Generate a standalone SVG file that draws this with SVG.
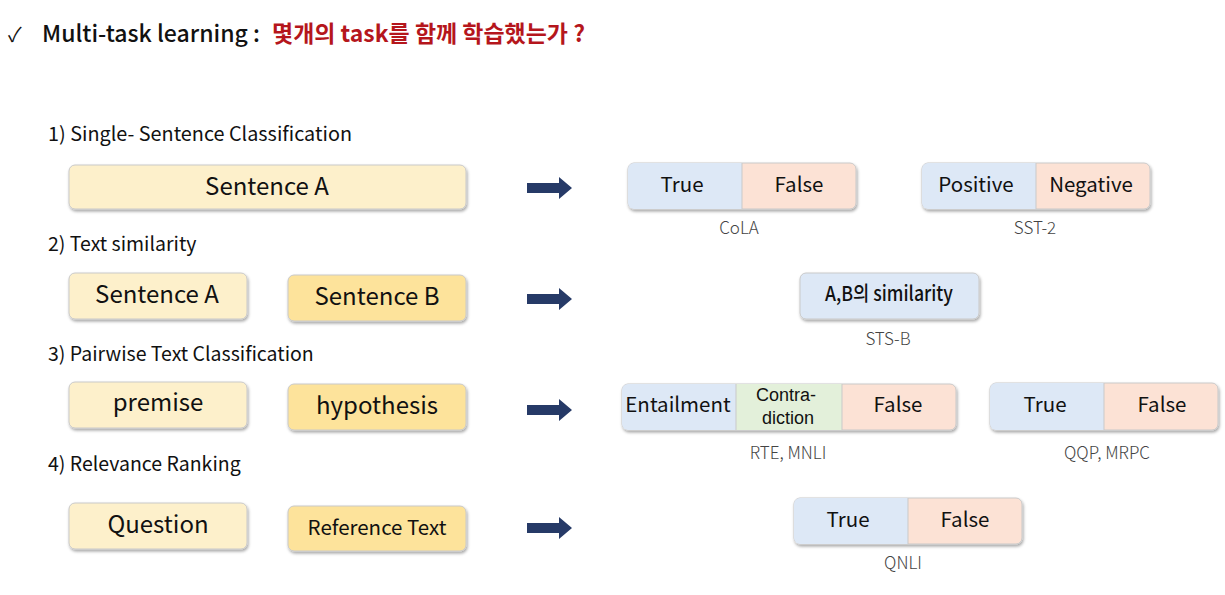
<svg xmlns="http://www.w3.org/2000/svg" width="1225" height="595" viewBox="0 0 1225 595">
  <defs>
    <filter id="sh" x="-10%" y="-20%" width="120%" height="150%">
      <feDropShadow dx="1" dy="2" stdDeviation="1.5" flood-color="#000" flood-opacity="0.35"/>
    </filter>
  </defs>
  <style>
    text { font-family: "Noto Sans CJK KR", "Noto Sans", sans-serif; fill: #111; }
    .title { font-size: 23px; font-weight: 500; }
    .red { fill: #b5161c; font-weight: 700; }
    .sec { font-size: 19.5px; }
    .box { stroke: #c9c9c9; stroke-width: 1; filter: url(#sh); }
    .y1 { fill: #fdf0cb; }
    .y2 { fill: #fde39b; }
    .bl { fill: #dde8f6; }
    .pk { fill: #fce2d5; }
    .gr { fill: #e3f0da; }
    .lbl { font-size: 20.5px; text-anchor: middle; }
    .big { font-size: 24px; text-anchor: middle; }
    .two { font-family: "Liberation Sans", Arial, sans-serif; font-size: 18px; }
    .ds { font-size: 17px; font-weight: 300; text-anchor: middle; fill: #444; }
    .arrow { fill: #263a67; }
  </style>
  <rect width="1225" height="595" fill="#fff"/>

  <!-- heading -->
  <g id="title">
    <text x="8" y="42" font-size="20">✓</text>
    <text x="42" y="42" class="title" textLength="218" lengthAdjust="spacingAndGlyphs">Multi-task learning :</text>
    <text x="272" y="42" class="title red" textLength="313" lengthAdjust="spacingAndGlyphs">몇개의 task를 함께 학습했는가 ?</text>
  </g>

  <!-- section labels -->
  <g id="sections">
    <text x="48" y="141" class="sec" textLength="304" lengthAdjust="spacingAndGlyphs">1) Single- Sentence Classification</text>
    <text x="48" y="251" class="sec">2) Text similarity</text>
    <text x="48" y="361" class="sec">3) Pairwise Text Classification</text>
    <text x="48" y="471" class="sec">4) Relevance Ranking</text>
  </g>

  <!-- row 1 -->
  <g id="r1-sentA">
    <rect x="69" y="165" width="397" height="44" rx="6" class="box y1"/>
    <text x="267" y="195" class="big">Sentence A</text>
  </g>
  <g id="r1-cola">
    <rect x="628" y="163" width="228" height="46" rx="6" class="box pk"/>
    <path d="M634 163 H742 V209 H634 A6 6 0 0 1 628 203 V169 A6 6 0 0 1 634 163 Z" class="bl"/>
    <line x1="742" y1="163" x2="742" y2="209" stroke="#c9c9c9"/>
    <text x="682" y="192" class="lbl">True</text>
    <text x="799" y="192" class="lbl">False</text>
    <text x="739" y="234" class="ds">CoLA</text>
  </g>
  <g id="r1-sst2">
    <rect x="922" y="163" width="228" height="46" rx="6" class="box pk"/>
    <path d="M928 163 H1036 V209 H928 A6 6 0 0 1 922 203 V169 A6 6 0 0 1 928 163 Z" class="bl"/>
    <line x1="1036" y1="163" x2="1036" y2="209" stroke="#c9c9c9"/>
    <text x="976" y="192" class="lbl">Positive</text>
    <text x="1091" y="192" class="lbl">Negative</text>
    <text x="1035" y="234" class="ds">SST-2</text>
  </g>

  <!-- row 2 -->
  <g id="r2-sentA">
    <rect x="69" y="273" width="178" height="46" rx="6" class="box y1"/>
    <text x="157" y="303" class="big">Sentence A</text>
  </g>
  <g id="r2-sentB">
    <rect x="288" y="275" width="178" height="46" rx="6" class="box y2"/>
    <text x="377" y="305" class="big">Sentence B</text>
  </g>
  <g id="r2-stsb">
    <rect x="800" y="273" width="179" height="46" rx="6" class="box bl"/>
    <text x="889" y="301" class="lbl" font-size="18" font-weight="500" textLength="128" lengthAdjust="spacingAndGlyphs">A,B의 similarity</text>
    <text x="888" y="345" class="ds">STS-B</text>
  </g>

  <!-- row 3 -->
  <g id="r3-premise">
    <rect x="69" y="382" width="178" height="46" rx="6" class="box y1"/>
    <text x="158" y="411" class="big">premise</text>
  </g>
  <g id="r3-hypothesis">
    <rect x="288" y="384" width="178" height="46" rx="6" class="box y2"/>
    <text x="377" y="414" class="big">hypothesis</text>
  </g>
  <g id="r3-mnli">
    <rect x="622" y="384" width="334" height="46" rx="6" class="box pk"/>
    <path d="M628 384 H736 V430 H628 A6 6 0 0 1 622 424 V390 A6 6 0 0 1 628 384 Z" class="bl"/>
    <rect x="736" y="384" width="106" height="46" class="gr"/>
    <line x1="736" y1="384" x2="736" y2="430" stroke="#c9c9c9"/>
    <line x1="842" y1="384" x2="842" y2="430" stroke="#c9c9c9"/>
    <text x="678" y="412" class="lbl" font-size="18.5">Entailment</text>
    <text x="786" y="401" class="lbl two">Contra-</text>
    <text x="788" y="424" class="lbl two">diction</text>
    <text x="898" y="412" class="lbl">False</text>
    <text x="788" y="459" class="ds">RTE, MNLI</text>
  </g>
  <g id="r3-qqp">
    <rect x="990" y="383" width="228" height="47" rx="6" class="box pk"/>
    <path d="M996 383 H1104 V430 H996 A6 6 0 0 1 990 424 V389 A6 6 0 0 1 996 383 Z" class="bl"/>
    <line x1="1104" y1="383" x2="1104" y2="430" stroke="#c9c9c9"/>
    <text x="1045" y="412" class="lbl">True</text>
    <text x="1162" y="412" class="lbl">False</text>
    <text x="1107" y="459" class="ds">QQP, MRPC</text>
  </g>

  <!-- row 4 -->
  <g id="r4-question">
    <rect x="69" y="503" width="178" height="46" rx="6" class="box y1"/>
    <text x="158" y="533" class="big">Question</text>
  </g>
  <g id="r4-reftext">
    <rect x="288" y="506" width="178" height="45" rx="6" class="box y2"/>
    <text x="377" y="535" class="lbl" font-size="21">Reference Text</text>
  </g>
  <g id="r4-qnli">
    <rect x="794" y="498" width="228" height="46" rx="6" class="box pk"/>
    <path d="M800 498 H908 V544 H800 A6 6 0 0 1 794 538 V504 A6 6 0 0 1 800 498 Z" class="bl"/>
    <line x1="908" y1="498" x2="908" y2="544" stroke="#c9c9c9"/>
    <text x="848" y="527" class="lbl">True</text>
    <text x="965" y="527" class="lbl">False</text>
    <text x="903" y="569" class="ds">QNLI</text>
  </g>

  <!-- connectors -->
  <g id="connectors">
    <path d="M527 183 H559 V177 L572 188 L559 199 V193 H527 Z" class="arrow"/>
    <path d="M527 294 H559 V288 L572 299 L559 310 V304 H527 Z" class="arrow"/>
    <path d="M527 405 H559 V399 L572 410 L559 421 V415 H527 Z" class="arrow"/>
    <path d="M527 523 H559 V517 L572 528 L559 539 V533 H527 Z" class="arrow"/>
  </g>
</svg>
